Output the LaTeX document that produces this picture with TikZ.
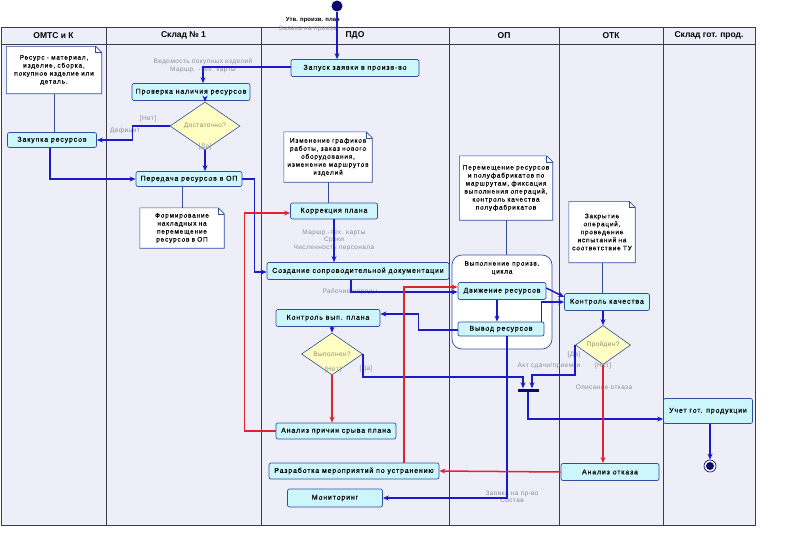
\documentclass[tikz,border=0pt]{standalone}
\usepackage{fontspec}
\setmainfont{Liberation Sans}
\newfontfamily\boxfont[LetterSpace=12,FakeBold=0.3]{Liberation Sans}
\newfontfamily\lblfont[LetterSpace=6]{Liberation Sans}
\usepackage{xcolor}
\usepackage{tikz}
\usetikzlibrary{positioning,shapes.geometric,arrows.meta}

\definecolor{lanebg}{HTML}{EEEEF9}
\definecolor{laneline}{HTML}{3A3A4A}
\definecolor{procfill}{HTML}{CCF6FB}
\definecolor{procline}{HTML}{2E4E9E}
\definecolor{condfill}{HTML}{FFFFC4}
\definecolor{flowblue}{HTML}{1A1AC8}
\definecolor{failred}{HTML}{E0242C}
\definecolor{navydot}{HTML}{0A0A6E}
\definecolor{lblgrey}{HTML}{8C8C9C}

% folded corner for the comment boxes
\newcommand{\dogear}[1]{%
  \fill[lanebg] ([xshift=-6pt]#1.north east) -- (#1.north east) -- ([yshift=-6pt]#1.north east) -- cycle;
  \draw[noteline] (#1.south west) -- (#1.north west) -- ([xshift=-6pt]#1.north east) -- ([yshift=-6pt]#1.north east) -- (#1.south east) -- cycle;
  \draw[noteline] ([xshift=-6pt]#1.north east) |- ([yshift=-6pt]#1.north east);}

\begin{document}
\begin{tikzpicture}[x=1pt, y=-1pt,
  lane/.style={draw=laneline, fill=lanebg, line width=0.8pt},
  lanehead/.style={font=\bfseries\fontsize{8.5}{9}\selectfont, inner sep=0pt},
  proc/.style={draw=procline, fill=procfill, rounded corners=2pt, inner sep=1pt, line width=0.7pt, font=\boxfont\fontsize{7}{8}\selectfont},
  cond/.style={draw=procline, fill=condfill, diamond, inner sep=0pt, line width=0.6pt, text=gray!70!olive, font=\lblfont\fontsize{6.5}{7}\selectfont},
  note/.style={fill=white, align=center, inner sep=3pt, font=\boxfont\fontsize{6.5}{8}\selectfont},
  noteline/.style={draw=procline, line width=0.6pt},
  cyclebox/.style={draw=procline, fill=white, rounded corners=10pt, line width=0.7pt},
  lbl/.style={text=lblgrey, align=center, inner sep=0pt, font=\lblfont\fontsize{6.5}{7.5}\selectfont},
  flow/.style={draw=flowblue, line width=1.5pt, -{Stealth[length=6pt,width=5pt]}},
  fail/.style={draw=failred, line width=1.5pt, -{Stealth[length=6pt,width=5pt]}},
  startdot/.style={circle, fill=navydot, minimum size=11pt, inner sep=0pt},
  enddot/.style={circle, draw=navydot, fill=white, line width=0.7pt, minimum size=12pt, inner sep=0pt,
    path picture={\fill[navydot] (path picture bounding box.center) circle (4pt);}},
  syncbar/.style={rectangle, fill=navydot, minimum width=21pt, minimum height=3pt, inner sep=0pt}]
\useasboundingbox (0,0) rectangle (800,558);

% Swimlanes
\foreach \xa/\xb/\lname [count=\i] in {1/106/{ОМТС и К}, 106/261/{Склад № 1}, 261/449/{ПДО}, 449/559/{ОП}, 559/663/{ОТК}, 663/755/{Склад гот. прод.}} {
  \draw[lane] (\xa,27) rectangle (\xb,525);
  \draw[lane] (\xa,27) rectangle (\xb,44);
  \node[lanehead] (head\i) at ({(\xa+\xb)/2},35.5) {\lname};
}

% Production cycle group
\node[cyclebox, minimum width=100pt, minimum height=94pt] (cycle) at (502,302) {};
\node[note, fill=none] (cycletitle) at (502,268) {Выполнение произв.\\цикла};

% Comments
\node[note, text width=89pt, minimum height=47pt] (noteres) at (54,70) {Ресурс - материал,\\изделие, сборка,\\покупное изделие или\\деталь.};
\dogear{noteres}
\node[note, text width=78pt, minimum height=40pt] (notenakl) at (182,228) {Формирование\\накладных на\\перемещение\\ресурсов в ОП};
\dogear{notenakl}
\node[note, text width=82pt, minimum height=50pt] (noteizm) at (328,157) {Изменение графиков\\работы, заказ нового\\оборудования,\\изменение маршрутов\\изделий};
\dogear{noteizm}
\node[note, text width=87pt, minimum height=64pt] (noteperem) at (506,188) {Перемещение ресурсов\\и полуфабрикатов по\\маршрутам, фиксация\\выполнения операций,\\контроль качества\\полуфабрикатов};
\dogear{noteperem}
\node[note, text width=60pt, minimum height=61pt] (notezakr) at (602,232) {Закрытие\\операций,\\проведение\\испытаний на\\соответствие ТУ};
\dogear{notezakr}

% Start / end
\node[startdot] (start) at (337,6) {};
\node[enddot] (finish) at (710,466) {};
\node[syncbar] (bar) at (528,390) {};

% Activities
\node[proc, minimum width=128pt, minimum height=17pt] (zapusk) at (355,68) {Запуск заявки в произв-во};
\node[proc, minimum width=118pt, minimum height=17pt] (proverka) at (191,92) {Проверка наличия ресурсов};
\node[proc, minimum width=89pt, minimum height=15pt] (zakupka) at (52,140) {Закупка ресурсов};
\node[proc, minimum width=106pt, minimum height=15pt] (peredacha) at (189,179) {Передача ресурсов в ОП};
\node[proc, minimum width=87pt, minimum height=16pt] (korrekt) at (334,211) {Коррекция плана};
\node[proc, minimum width=182pt, minimum height=17pt] (sozdanie) at (358,271) {Создание сопроводительной документации};
\node[proc, minimum width=88pt, minimum height=17pt] (dvizh) at (502,291) {Движение ресурсов};
\node[proc, minimum width=86pt, minimum height=14pt] (vyvod) at (501,329) {Вывод ресурсов};
\node[proc, minimum width=104pt, minimum height=17pt] (kontrol) at (328,318) {Контроль вып. плана};
\node[proc, minimum width=120pt, minimum height=16pt] (analiz) at (336,431) {Анализ причин срыва плана};
\node[proc, minimum width=170pt, minimum height=16pt] (razrab) at (354,471) {Разработка мероприятий по устранению};
\node[proc, minimum width=95pt, minimum height=18pt] (monitor) at (335,498) {Мониторинг};
\node[proc, minimum width=85pt, minimum height=17pt] (kachestvo) at (607,302) {Контроль качества};
\node[proc, minimum width=98pt, minimum height=17pt] (otkaz) at (610,472) {Анализ отказа};
\node[proc, minimum width=89pt, minimum height=25pt] (uchet) at (708,411) {Учет гот. продукции};

% Decisions
\node[cond, minimum width=70pt, minimum height=25pt] (enough) at (205,126) {Достаточно?};
\node[cond, minimum width=61pt, minimum height=25pt] (vypoln) at (332,354) {Выполнен?};
\node[cond, minimum width=55pt, minimum height=25pt] (proiden) at (603,345) {Пройден?};

% Labels
\node[font=\bfseries\fontsize{6}{7}\selectfont, inner sep=0pt, anchor=east] (lplan) at (340,20) {Утв. произв. план};
\node[lbl, anchor=east] (lzayav) at (337,29) {Заявка на произв};
\node[lbl] (lved) at (203,66) {Ведомость покупных изделий\\Маршр. -тех. карты};
\node[lbl] (lnet1) at (148,119) {[Нет]};
\node[lbl] (ldef) at (125,131) {Дефицит};
\node[lbl] (lda1) at (205,147) {[Да]};
\node[lbl] (lmarsh) at (334,240) {Маршр.-тех. карты\\Сроки\\Численность персонала};
\node[lbl] (lnar) at (350,292) {Рабочие наряды};
\node[lbl] (lnet2) at (333,370) {[Нет]};
\node[lbl] (lda2) at (366,369) {[Да]};
\node[lbl] (lda3) at (574,355) {[Да]};
\node[lbl] (lakt) at (549,366) {Акт сдачи/приемки};
\node[lbl] (lnet3) at (603,366) {[Нет]};
\node[lbl] (lopis) at (604,387) {Описание отказа};
\node[lbl] (lsost) at (512,497) {Заявка на пр-во\\Состав};

% Comment links
\draw[noteline] (noteres.south) -- (noteres.south |- zakupka.north);
\draw[noteline] (notenakl.north) -- (notenakl.north |- peredacha.south);
\draw[noteline] (noteizm.south) -- (noteizm.south |- korrekt.north);
\draw[noteline] (noteperem.south) -- (noteperem.south |- cycle.north);
\draw[noteline] (notezakr.south) -- (notezakr.south |- kachestvo.north);

% Arrows
\draw[flow] (start) -- (start |- zapusk.north);
\draw[flow] ([yshift=1pt]zapusk.west) -| ([xshift=12pt]proverka.north);
\draw[flow] (enough |- proverka.south) -- (enough.north);
\draw[flow] (enough.west) -- ++(-37,0) |- (zakupka.east);
\draw[flow] (enough.south) -- (enough.south |- peredacha.north);
\draw[flow] ([xshift=-2pt]zakupka.south) |- (peredacha.west);
\draw[flow] (peredacha.east) -- ++(12,0) |- ([yshift=-1pt]sozdanie.west);
\draw[flow] (korrekt.south) -- (korrekt.south |- sozdanie.north);
\draw[flow] ([xshift=-7pt]sozdanie.south) |- ([yshift=-1pt]dvizh.west);
\draw[flow] ([xshift=-5pt]dvizh.south) -- ([xshift=-4pt]vyvod.north);
\draw[flow] ([yshift=3pt]dvizh.east) -- ([yshift=5pt]kachestvo.west);
\draw[flow] ([xshift=-3pt]vyvod.north east) |- (kachestvo.west);
\draw[flow] ([yshift=-1pt]vyvod.west) -- ++(-39,0) |- ([yshift=4pt]kontrol.east);
\draw[flow] (vypoln.north |- kontrol.south) -- (vypoln.north);
\draw[flow] (vypoln.east) -- ++(0,23) -| ([xshift=-5pt]bar.north);
\draw[flow] (proiden.west) -- ++(0,30) -| ([xshift=4pt]bar.north);
\draw[flow] (bar.south) |- ([yshift=-8pt]uchet.west);
\draw[flow] (proiden |- kachestvo.south) -- (proiden.north);
\draw[flow] ([xshift=6pt]vyvod.south) |- (monitor.east);
\draw[flow] (finish |- uchet.south) -- (finish);

% Failure paths
\draw[fail] (vypoln.south) -- (vypoln.south |- analiz.north);
\draw[fail] (analiz.west) -- ++(-31,0) |- ([yshift=-2pt]korrekt.west);
\draw[fail] ([xshift=50pt]razrab.north) |- ([yshift=4pt]dvizh.west);
\draw[fail] (proiden.south) -- (proiden.south |- otkaz.north);
\draw[fail] (otkaz.west) -- (razrab.east);
\end{tikzpicture}
\end{document}
